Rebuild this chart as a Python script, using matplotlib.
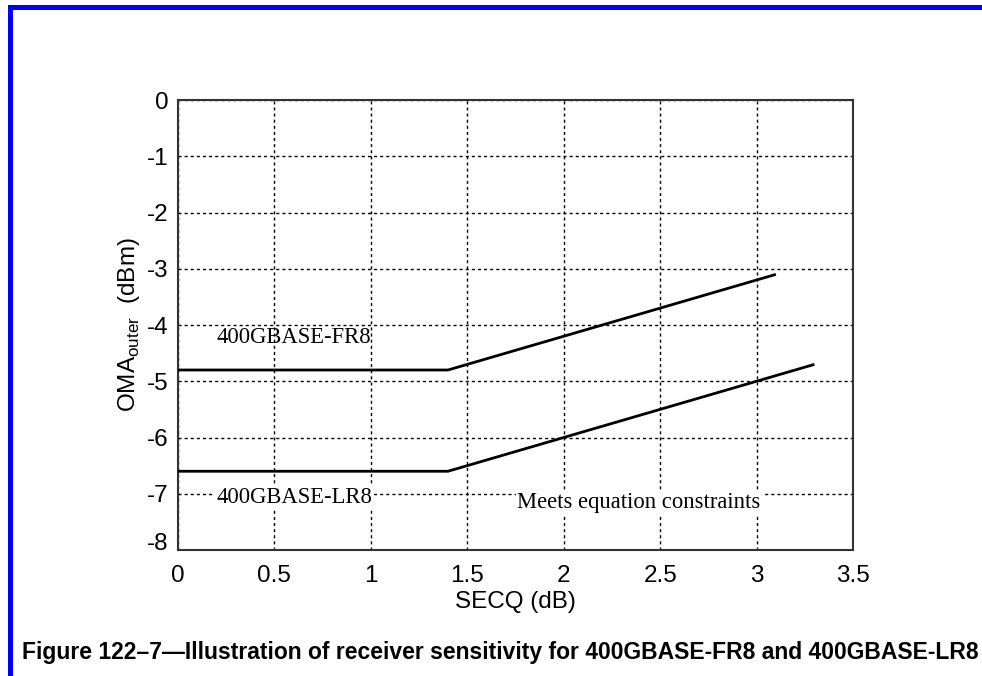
import matplotlib
matplotlib.use("Agg")
import matplotlib.pyplot as plt
from matplotlib.patches import Rectangle

# Receiver sensitivity curves (SECQ in dB, OMA_outer in dBm)
fr8_secq = [0.0, 1.4, 3.1]
fr8_oma = [-4.8, -4.8, -3.1]
lr8_secq = [0.0, 1.4, 3.3]
lr8_oma = [-6.6, -6.6, -4.7]

x_ticks = [0, 0.5, 1, 1.5, 2, 2.5, 3, 3.5]
x_tick_labels = ["0", "0.5", "1", "1.5", "2", "2.5", "3", "3.5"]
y_ticks = [0, -1, -2, -3, -4, -5, -6, -7, -8]
y_tick_labels = ["0", "-1", "-2", "-3", "-4", "-5", "-6", "-7", "-8"]

caption = "Figure 122\u20137\u2014Illustration of receiver sensitivity for 400GBASE-FR8 and 400GBASE-LR8"

sans = "Liberation Sans"
serif = "Liberation Serif"

fig = plt.figure(figsize=(9.82, 6.76), dpi=100)
fig.patch.set_facecolor("white")

ax = fig.add_axes([178 / 982, 1 - 550 / 676, 675 / 982, 450 / 676])

ax.plot(fr8_secq, fr8_oma, color="black", lw=2.0, solid_capstyle="butt", zorder=3)
ax.plot(lr8_secq, lr8_oma, color="black", lw=2.0, solid_capstyle="butt", zorder=3)

ax.set_xlim(0, 3.5)
ax.set_ylim(-8, 0)
ax.set_xticks(x_ticks)
ax.set_xticklabels(x_tick_labels, fontfamily=sans, fontsize=17.5)
ax.set_yticks(y_ticks)
ax.set_yticklabels(y_tick_labels, fontfamily=sans, fontsize=17.5)
ax.tick_params(axis="both", direction="in", length=0, colors="black")
ax.tick_params(axis="x", pad=11)
ax.tick_params(axis="y", pad=7)
for lab in ax.get_yticklabels():
    if lab.get_text() == "-8":
        lab.set_va("baseline")

ax.grid(True, color="black", linestyle=(0, (2.2, 2.2)), linewidth=1.0)
ax.set_axisbelow(True)
for sp in ax.spines.values():
    sp.set_color("#333333")
    sp.set_linewidth(1.5)

ax.set_xlabel("SECQ (dB)", fontfamily=sans, fontsize=17.5, labelpad=3)
ax.set_ylabel(r"OMA$_{\mathregular{outer}}$  (dBm)", fontfamily=sans, fontsize=17.5, labelpad=3)

ax.text(0.2, -4.23, "400GBASE-FR8", fontfamily=serif, fontsize=16.3,
        ha="left", va="center", zorder=4)
ax.text(0.2, -7.06, "400GBASE-LR8", fontfamily=serif, fontsize=16.3,
        ha="left", va="center", zorder=4,
        bbox=dict(facecolor="white", edgecolor="none", pad=1))
ax.text(2.39, -7.15, "Meets equation constraints", fontfamily=serif, fontsize=16.3,
        ha="center", va="center", zorder=4,
        bbox=dict(facecolor="white", edgecolor="none", pad=1))

fig.text(22 / 982, 1 - 652 / 676, caption, fontfamily=sans, fontweight="bold",
         fontsize=16.5, ha="left", va="center")

# Blue frame along the top and left edges
fig.add_artist(Rectangle((8 / 982, 0), 5 / 982, 1 - 5 / 676,
                         transform=fig.transFigure, facecolor="#0000ff", edgecolor="none"))
fig.add_artist(Rectangle((8 / 982, 1 - 10 / 676), 1 - 8 / 982, 5 / 676,
                         transform=fig.transFigure, facecolor="#0000ff", edgecolor="none"))

fig.savefig("out.png", dpi=100, facecolor="white")
